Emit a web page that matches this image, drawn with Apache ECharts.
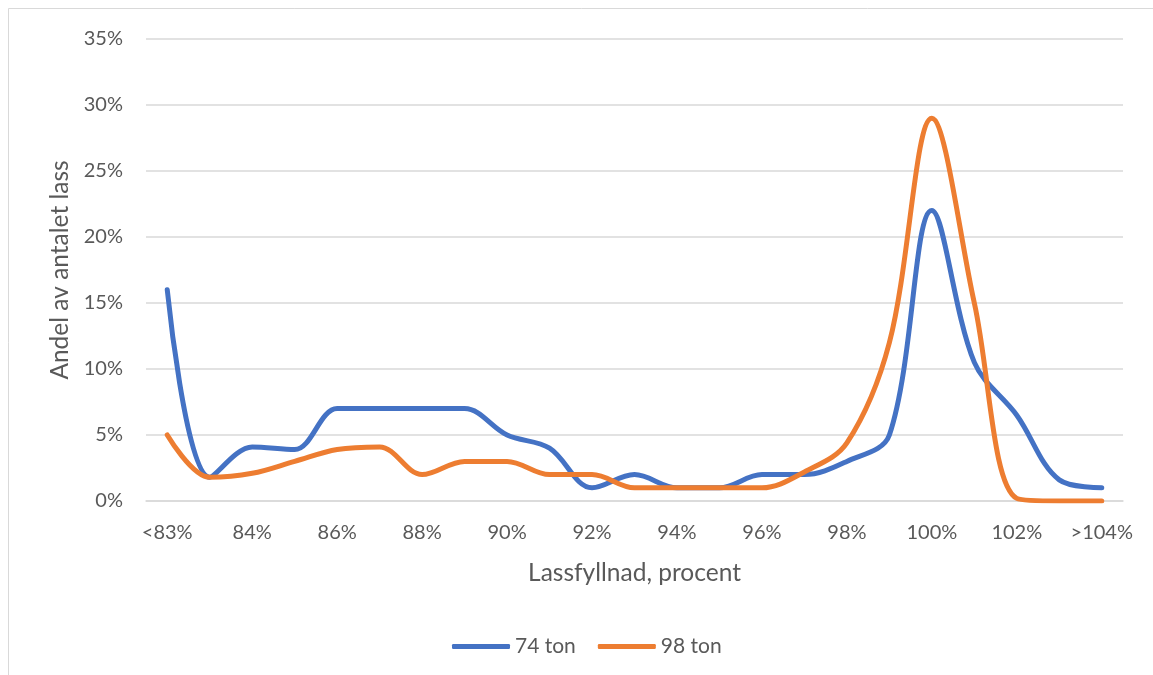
<!DOCTYPE html>
<html>
<head>
<meta charset="utf-8">
<script src="https://cdn.jsdelivr.net/npm/echarts@6/dist/echarts.min.js"></script>
<style>
  html, body { margin: 0; padding: 0; background: #ffffff; }
  #chart { width: 1153px; height: 675px; }
</style>
</head>
<body>
<div id="chart"></div>
<script>
// Load-fill categories (percent of nominal load)
const categories = ['<83%', '83%', '84%', '85%', '86%', '87%', '88%', '89%', '90%', '91%', '92%',
  '93%', '94%', '95%', '96%', '97%', '98%', '99%', '100%', '101%', '102%', '103%', '>104%'];

// Share of loads (%) per category
const ton74 = [16, 1.8, 4.1, 3.9, 7, 7, 7, 7, 5, 4, 1, 2, 1, 1, 2, 2, 3, 5, 22, 10.5, 6.5, 1.6, 1];
const ton98 = [5, 1.8, 2.1, 3, 3.9, 4.1, 2, 3, 3, 2, 2, 1, 1, 1, 1, 2.2, 4.4, 12, 29, 15, 0.2, 0, 0];

const yTicks = { min: 0, max: 35, interval: 5 };

const textColor = '#595959';
const gridColor = '#D9D9D9';
const font = 'Lato, "Open Sans", sans-serif';

const chart = echarts.init(document.getElementById('chart'), null, { renderer: 'canvas' });

chart.setOption({
  backgroundColor: '#ffffff',
  animation: false,
  textStyle: { fontFamily: font, color: textColor },
  graphic: [{
    type: 'rect',
    shape: { x: 8.5, y: 8.5, width: 1170, height: 700 },
    style: { fill: 'none', stroke: gridColor, lineWidth: 1 },
    silent: true
  }],
  grid: { left: 146, right: 30, top: 39, bottom: 174, containLabel: false },
  legend: {
    left: 447,
    top: 631,
    itemWidth: 58,
    itemHeight: 5,
    itemGap: 22,
    icon: 'roundRect',
    textStyle: { fontFamily: font, fontSize: 21, color: textColor },
    data: ['74 ton', '98 ton']
  },
  xAxis: {
    type: 'category',
    data: categories,
    boundaryGap: true,
    name: 'Lassfyllnad, procent',
    nameLocation: 'middle',
    nameGap: 60,
    nameTextStyle: { fontFamily: font, fontSize: 24.5, color: textColor },
    axisLine: { show: true, lineStyle: { color: gridColor, width: 1.5 } },
    axisTick: { show: false },
    axisLabel: { interval: 1, margin: 22, fontSize: 20, color: textColor, fontFamily: font }
  },
  yAxis: {
    type: 'value',
    min: yTicks.min,
    max: yTicks.max,
    interval: yTicks.interval,
    name: 'Andel av antalet lass',
    nameLocation: 'middle',
    nameGap: 72,
    nameTextStyle: { fontFamily: font, fontSize: 24.5, color: textColor },
    axisLine: { show: false },
    axisTick: { show: false },
    axisLabel: { formatter: '{value}%', margin: 23, fontSize: 20, color: textColor, fontFamily: font },
    splitLine: { show: true, lineStyle: { color: gridColor, width: 1.5 } }
  },
  series: [
    {
      name: '74 ton',
      type: 'line',
      data: ton74,
      smooth: 0.35,
      showSymbol: false,
      symbol: 'none',
      lineStyle: { color: '#4472C4', width: 5, cap: 'round', join: 'round' },
      itemStyle: { color: '#4472C4' }
    },
    {
      name: '98 ton',
      type: 'line',
      data: ton98,
      smooth: 0.35,
      showSymbol: false,
      symbol: 'none',
      lineStyle: { color: '#ED7D31', width: 5, cap: 'round', join: 'round' },
      itemStyle: { color: '#ED7D31' }
    }
  ]
});
</script>
</body>
</html>
